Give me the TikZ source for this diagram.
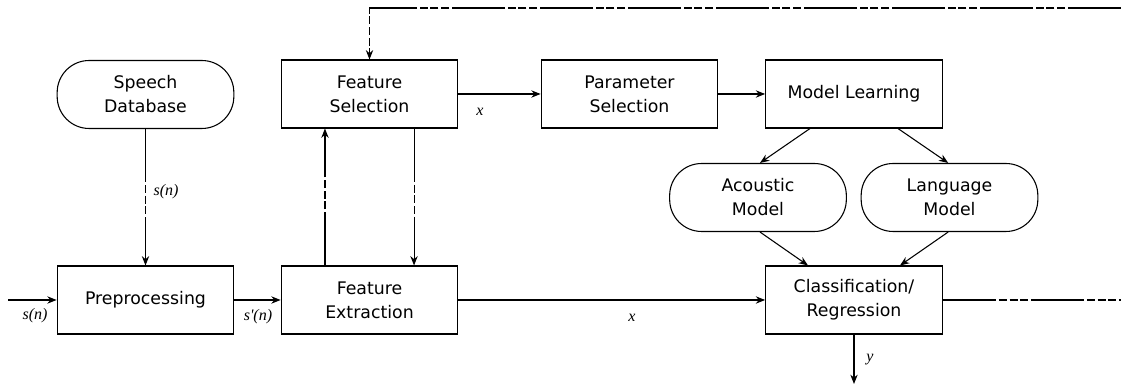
\documentclass[tikz,border=0pt]{standalone}
\usepackage{fontspec}
\setmainfont{DejaVu Sans}
\newfontfamily\lblfont{Liberation Serif}
\usetikzlibrary{positioning,arrows.meta}

\tikzset{
  block/.style={draw,line width=0.8pt,minimum width=132.5pt,minimum height=51pt,
    align=center,font=\fontsize{13}{18}\selectfont},
  store/.style={block,rounded corners=24pt},
  mixdash/.style={dash pattern=on 40pt off 2pt on 6pt off 2pt on 6pt off 2pt on 6pt off 2pt},
  sig/.style={font=\lblfont\itshape\fontsize{12}{14}\selectfont},
  >={Stealth[length=7pt,width=5.5pt]}
}

\begin{document}
\begin{tikzpicture}[x=0.75pt,y=0.75pt,line width=0.8pt]
      \useasboundingbox (0, 0) rectangle (1121, 384);

      % Top row
      \node[store] (db) at (145.5, 289.5) {Speech\\Database};
      \node[block] (fsel) at (369.5, 290) {Feature\\Selection};
      \node[block] (psel) at (629.5, 290) {Parameter\\Selection};
      \node[block] (learn) at (854, 290) {Model Learning};

      % Models
      \node[store] (ac) at (758, 186.5) {Acoustic\\Model};
      \node[store] (lm) at (949.5, 186.5) {Language\\Model};

      % Bottom row
      \node[block] (pre) at (145.5, 84) {Preprocessing};
      \node[block] (fext) at (369.5, 84) {Feature\\Extraction};
      \node[block] (cls) at (854, 84) {Classification/\\Regression};

      % Free ends
      \coordinate (in) at (8, 84);
      \coordinate (out) at (1121, 84);
      \coordinate (yout) at (854, 0);
      \coordinate (fb) at (1121, 376);

      % Signal path
      \draw[->] (in) -- (pre);
      \draw[->] (pre) -- (fext);
      \draw[->] (fext) -- (cls);
      \draw[mixdash] (cls) -- (out);
      \draw[->] (cls) -- (yout);

      % Database and feature loop
      \draw[->,mixdash] (db) -- (pre);
      \draw[->,mixdash] ([xshift=-33.4pt]fext.north) -- ([xshift=-33.4pt]fsel.south);
      \draw[->,mixdash] ([xshift=33.4pt]fsel.south) -- ([xshift=33.4pt]fext.north);
      \draw[->,mixdash] (fb) -| (fsel.north);

      % Learning
      \draw[->] (fsel) -- (psel);
      \draw[->] (psel) -- (learn);
      \draw[->] ([xshift=-33pt]learn.south) -- ([xshift=1.5pt]ac.north);
      \draw[->] ([xshift=33pt]learn.south) -- ([xshift=-1pt]lm.north);
      \draw[->] ([xshift=1.5pt]ac.south) -- ([xshift=-34.5pt]cls.north);
      \draw[->] ([xshift=-1pt]lm.south) -- ([xshift=34.5pt]cls.north);

      % Signal labels
      \node[sig] (l1) at (35, 68) {s(n)};
      \node[sig] (l2) at (258, 67) {s'(n)};
      \node[sig] (l3) at (632, 66) {x};
      \node[sig] (l4) at (480, 272) {x};
      \node[sig] (l5) at (166, 192) {s(n)};
      \node[sig] (l6) at (870, 24) {y};
    \end{tikzpicture}
\end{document}
